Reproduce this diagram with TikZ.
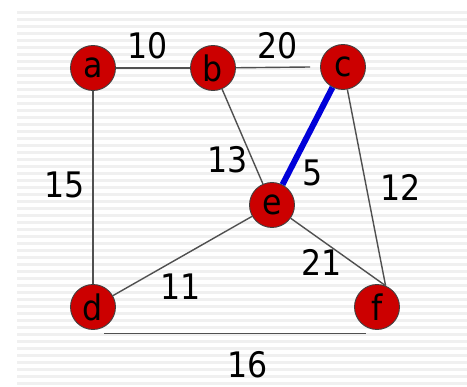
\documentclass[tikz,border=0pt]{standalone}
\usepackage{fontspec}
\setmainfont{DejaVu Sans Condensed}
\definecolor{nodered}{RGB}{204,0,0}
\definecolor{edgegray}{RGB}{80,80,80}
\definecolor{stripegray}{RGB}{240,240,240}
\begin{document}
\begin{tikzpicture}[every node/.style={font=\fontsize{20}{22}\selectfont},
  vertex/.style={circle,draw=black!75,line width=0.5pt,fill=nodered,minimum size=0.9cm,inner sep=0pt},
  edge/.style={draw=edgegray,line width=0.8pt},
  weight/.style={inner sep=1pt}]
  \useasboundingbox (0,0) rectangle (9.34,7.74);
  % striped slide background
  \fill[white] (0,0) rectangle (9.34,7.74);
  \foreach \y in {0.07,0.21,...,7.55}
    \fill[stripegray] (0.34,\y-0.035) rectangle (9.34,\y+0.035);
  % vertices
  \node[vertex] (a) at (1.86,6.38) {a};
  \node[vertex] (b) at (4.26,6.38) {b};
  \node[vertex] (c) at (6.86,6.40) {c};
  \node[vertex] (e) at (5.44,3.64) {e};
  \node[vertex] (d) at (1.86,1.60) {d};
  \node[vertex] (f) at (7.54,1.60) {f};
  % edges
  \draw[edge] (a) -- (b);
  \draw[edge] (b) -- ([xshift=-2mm]c.west);
  \draw[edge] (a) -- (d);
  \draw[edge] (b) -- (e);
  \draw[edge] (c) -- (f.68);
  \draw[edge] (e) -- (f.68);
  \draw[edge] (d) -- (e);
  \draw[edge] ([yshift=-1.3mm]d.-60) -- ([yshift=-1.3mm]f.-120);
  \draw[blue!85!black,line width=3.4pt] (c) -- (e);
  % weights
  \node[weight] (w10) at (2.96,6.82) {10};
  \node[weight] (w20) at (5.56,6.82) {20};
  \node[weight] (w15) at (1.30,4.04) {15};
  \node[weight] (w13) at (4.56,4.54) {13};
  \node[weight] (w5) at (6.26,4.28) {5};
  \node[weight] (w12) at (8.02,4.00) {12};
  \node[weight] (w21) at (6.44,2.50) {21};
  \node[weight] (w11) at (3.62,2.00) {11};
  \node[weight] (w16) at (4.96,0.44) {16};
\end{tikzpicture}
\end{document}
